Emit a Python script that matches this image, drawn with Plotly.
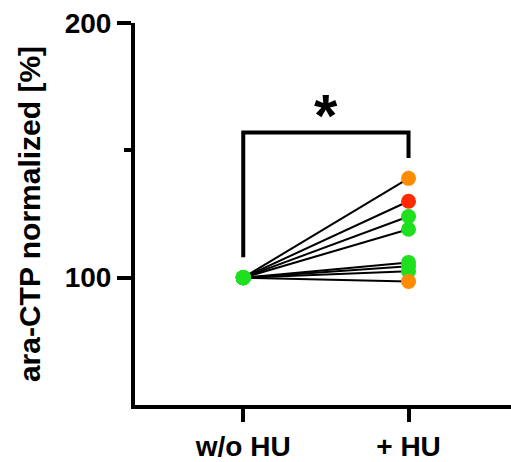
import plotly.graph_objects as go

categories = ["w/o HU", "+ HU"]
without_hu = [100, 100, 100, 100, 100, 100, 100, 100]
with_hu = [139, 130, 124, 119, 106, 104.5, 102.5, 98.5]
with_hu_colors = ["#FF8C00", "#FF2A00", "#1EE01E", "#1EE01E", "#1EE01E", "#1EE01E", "#1EE01E", "#FF8C00"]
without_hu_color = "#1EE01E"

bracket_y = [108, 157, 157, 147]
star_y = 163.5

FONT = "Arial, Liberation Sans, sans-serif"

fig = go.Figure()

# paired lines
for a, b in zip(without_hu, with_hu):
    fig.add_trace(go.Scatter(
        x=categories, y=[a, b], mode="lines",
        line=dict(color="black", width=2), showlegend=False, hoverinfo="skip"))

# +HU points
fig.add_trace(go.Scatter(
    x=[categories[1]] * len(with_hu), y=with_hu, mode="markers",
    marker=dict(color=with_hu_colors, size=15, line=dict(width=0)),
    showlegend=False, cliponaxis=False))

# w/o HU points
fig.add_trace(go.Scatter(
    x=[categories[0]] * len(without_hu), y=without_hu, mode="markers",
    marker=dict(color=without_hu_color, size=15, line=dict(width=0)),
    showlegend=False, cliponaxis=False))

# significance bracket
fig.add_trace(go.Scatter(
    x=[categories[0], categories[0], categories[1], categories[1]], y=bracket_y,
    mode="lines", line=dict(color="black", width=4), showlegend=False, hoverinfo="skip"))

fig.add_annotation(x=0.5, y=star_y, xref="x", yref="y", text="<b>*</b>",
                   showarrow=False, font=dict(family=FONT, size=60, color="black"),
                   yanchor="middle", xanchor="center")

fig.update_layout(
    width=511, height=462,
    margin=dict(l=135, r=0, t=23, b=57),
    plot_bgcolor="white", paper_bgcolor="white",
    font=dict(family=FONT, color="black"),
)

fig.update_xaxes(
    type="category", categoryorder="array", categoryarray=categories,
    range=[-0.655, 1.62],
    showline=True, linecolor="black", linewidth=4,
    ticks="outside", ticklen=13, tickwidth=4, tickcolor="black",
    tickfont=dict(family=FONT, size=28, color="black", weight="bold"),
    showgrid=False, zeroline=False,
)

fig.update_yaxes(
    range=[50, 200],
    tickvals=[100, 200], ticktext=["100", "200"],
    showline=True, linecolor="black", linewidth=4,
    ticks="outside", ticklen=14, tickwidth=4, tickcolor="black",
    tickfont=dict(family=FONT, size=28, color="black", weight="bold"),
    minor=dict(tickvals=[150], ticks="outside", ticklen=7, tickwidth=4, tickcolor="black", showgrid=False),
    showgrid=False, zeroline=False,
    title=dict(text="ara-CTP normalized [%]", font=dict(family=FONT, size=30, color="black", weight="bold"), standoff=16),
)

fig.write_html("out.html")
